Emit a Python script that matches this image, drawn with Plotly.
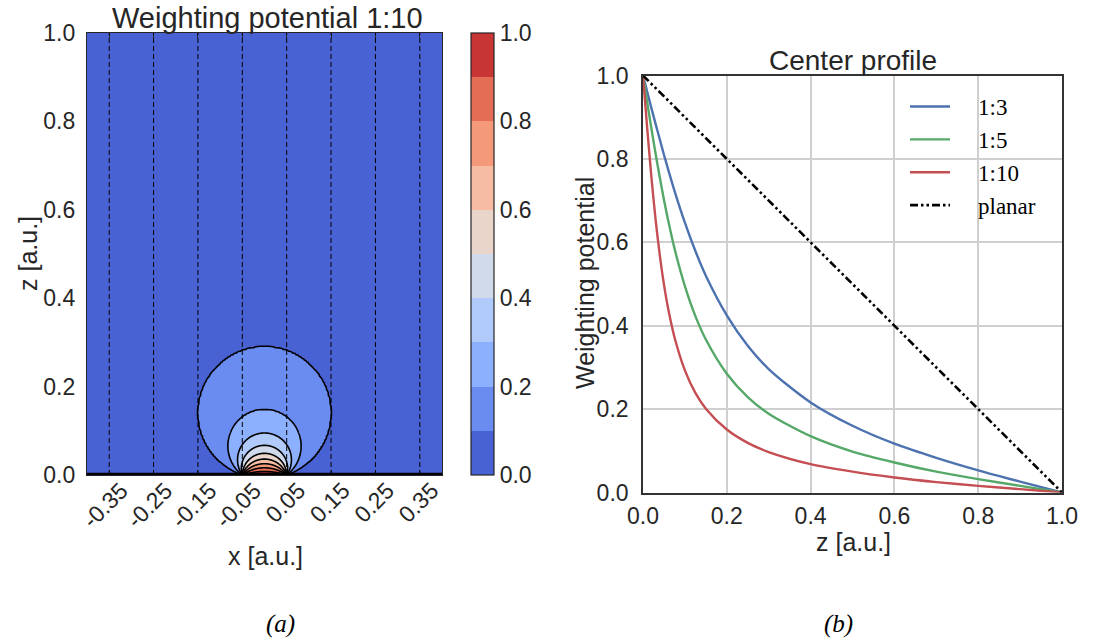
import numpy as np
import plotly.graph_objects as go

# ---------------- data ----------------
# (a) weighting potential 1:10 : contour levels and the height of each level on the pixel axis
contour_levels = [0.1, 0.2, 0.3, 0.4, 0.5, 0.6, 0.7, 0.8, 0.9]
apex_heights = [0.290, 0.148, 0.095, 0.067, 0.049, 0.036, 0.0255, 0.0163, 0.008]
pixel_half_width = 0.05
pixel_edges = [-0.35, -0.25, -0.15, -0.05, 0.05, 0.15, 0.25, 0.35]
x_tick_labels = ["-0.35", "-0.25", "-0.15", "-0.05", "0.05", "0.15", "0.25", "0.35"]
band_colors = ["#4962d3", "#6a8cf0", "#8db0fe", "#b0cafc", "#d0daeb",
               "#e9d5ca", "#f7bda3", "#f49a7b", "#e46d56", "#c73534"]
cbar_ticks = [0.0, 0.2, 0.4, 0.6, 0.8, 1.0]

# (b) center profile
profile_z = [0.0, 0.005, 0.01, 0.02, 0.03, 0.04, 0.05, 0.06, 0.075, 0.1, 0.125, 0.15,
             0.2, 0.25, 0.3, 0.4, 0.5, 0.6, 0.7, 0.8, 0.9, 1.0]
profile_1_3 = [1.0, 0.981, 0.961, 0.922, 0.884, 0.847, 0.810, 0.775, 0.724, 0.647, 0.579, 0.520,
               0.425, 0.352, 0.296, 0.216, 0.160, 0.117, 0.083, 0.053, 0.026, 0.0]
profile_1_5 = [1.0, 0.968, 0.936, 0.873, 0.813, 0.756, 0.702, 0.653, 0.586, 0.495, 0.423, 0.367,
               0.285, 0.229, 0.189, 0.135, 0.098, 0.072, 0.050, 0.032, 0.016, 0.0]
profile_1_10 = [1.0, 0.937, 0.874, 0.757, 0.655, 0.570, 0.499, 0.441, 0.373, 0.293, 0.239, 0.201,
                0.151, 0.119, 0.097, 0.068, 0.050, 0.036, 0.025, 0.016, 0.008, 0.0]
planar_z = [0.0, 1.0]
planar_v = [1.0, 0.0]
axis_ticks = [0.0, 0.2, 0.4, 0.6, 0.8, 1.0]

# ---------------- field for the contour ----------------
xg = np.unique(np.round(np.concatenate([np.arange(-0.4, -0.1, 0.004),
                                        np.arange(-0.1, 0.1, 0.0005),
                                        np.arange(0.1, 0.40001, 0.004)]), 5))
zg = np.unique(np.round(np.concatenate([np.arange(0.0, 0.1, 0.0004),
                                        np.arange(0.1, 1.00001, 0.004)]), 5))
X, Z = np.meshgrid(xg, zg)
a = pixel_half_width
with np.errstate(divide="ignore", invalid="ignore"):
    c = (X ** 2 + Z ** 2 - a ** 2) / (2 * Z)
    h = a ** 2 / (np.sqrt(c ** 2 + a ** 2) - c)
h = np.where(Z > 0, h, np.where(np.abs(X) < a, 0.0, np.inf))
h = np.nan_to_num(h, nan=np.inf, posinf=1e9)
hp = [0.0] + apex_heights[::-1] + [1.0]
vp = [1.0] + contour_levels[::-1] + [0.0]
phi = np.round(np.interp(h, hp, vp), 4)

n = len(band_colors)
fill_cs = [[k / (n - 1), col] for k, col in enumerate(band_colors)]
step_cs = []
for k, col in enumerate(band_colors):
    step_cs.append([k / n, col])
    step_cs.append([(k + 1) / n, col])

W, H = 1098, 640
TXT = "#262626"
SANS = "Liberation Sans, Arial, sans-serif"
SERIF = "Liberation Serif, Times New Roman, serif"
NB = "\u00a0"

fig = go.Figure()
fig.add_trace(go.Contour(
    x=xg, y=zg, z=phi, xaxis="x", yaxis="y",
    autocontour=False,
    contours=dict(start=0.1, end=0.9, size=0.1, coloring="fill", showlines=True),
    line=dict(color="black", width=1.6, smoothing=0.6),
    colorscale=fill_cs, showscale=False, hoverinfo="skip", showlegend=False,
))
fig.add_trace(go.Scatter(
    x=[None], y=[None], mode="markers", xaxis="x", yaxis="y", showlegend=False,
    marker=dict(color=[0.5], cmin=0, cmax=1, colorscale=step_cs, showscale=True,
                colorbar=dict(x=471 / W, xanchor="left", xpad=0, ypad=0,
                              y=(H - 475) / H, yanchor="bottom", len=442 / H, lenmode="fraction",
                              thickness=23, outlinewidth=1.2, outlinecolor=TXT,
                              tickvals=cbar_ticks, ticktext=[f"{v:.1f}" for v in cbar_ticks],
                              ticks="", tickfont=dict(size=23, color=TXT, family=SANS))),
))

series = [("1:3", profile_1_3, "#4c72b0"), ("1:5", profile_1_5, "#55a868"), ("1:10", profile_1_10, "#c44e52")]
for name, vals, col in series:
    fig.add_trace(go.Scatter(x=profile_z, y=vals, xaxis="x2", yaxis="y2", name=NB * 4 + name, mode="lines",
                             line=dict(color=col, width=2.4, shape="spline", smoothing=0.8)))
fig.add_trace(go.Scatter(x=planar_z, y=planar_v, xaxis="x2", yaxis="y2", name=NB * 4 + "planar", mode="lines",
                         line=dict(color="black", width=2.6, dash="8px,3px,2.5px,3px,2.5px,3px")))

shapes = []
for e in pixel_edges:
    shapes.append(dict(type="line", xref="x", yref="y domain", x0=e, x1=e, y0=0, y1=1,
                       line=dict(color="black", width=1, dash="5px,3px"), layer="above"))
shapes.append(dict(type="line", xref="x domain", yref="y", x0=0, x1=1, y0=0, y1=0,
                   line=dict(color="black", width=4.5), layer="above"))

ann = [
    dict(text="Weighting potential 1:10", x=267 / W, y=(H - 18) / H, font=dict(size=29)),
    dict(text="Center profile", x=853 / W, y=(H - 60) / H, font=dict(size=28)),
    dict(text="x [a.u.]", x=265 / W, y=(H - 556) / H, font=dict(size=25)),
    dict(text="z [a.u.]", x=28 / W, y=(H - 254) / H, font=dict(size=25), textangle=-90),
    dict(text="z [a.u.]", x=853 / W, y=(H - 542) / H, font=dict(size=25)),
    dict(text="Weighting potential", x=585 / W, y=(H - 283) / H, font=dict(size=25), textangle=-90),
    dict(text="<i>(a)</i>", x=280 / W, y=(H - 624) / H, font=dict(size=25, family=SERIF, color="black")),
    dict(text="<i>(b)</i>", x=838 / W, y=(H - 624) / H, font=dict(size=25, family=SERIF, color="black")),
]
for d in ann:
    d.update(xref="paper", yref="paper", showarrow=False, xanchor="center", yanchor="middle")

fig.update_layout(
    width=W, height=H, margin=dict(l=0, r=0, t=0, b=0, autoexpand=False),
    paper_bgcolor="white", plot_bgcolor="white",
    font=dict(family=SANS, color=TXT, size=23),
    xaxis=dict(domain=[87 / W, 442 / W], anchor="y", range=[-0.4, 0.4], tickvals=pixel_edges,
               ticktext=x_tick_labels, automargin=False, ticklabelshift=12, ticklabelstandoff=-8,
               tickangle=-45, ticks="inside", ticklen=5, tickcolor=TXT, showgrid=False, zeroline=False,
               showline=True, mirror="ticks", linecolor=TXT, linewidth=1.2, tickfont=dict(size=23)),
    yaxis=dict(domain=[(H - 475) / H, (H - 33) / H], anchor="x", range=[0, 1], tickvals=axis_ticks,
               ticktext=[f"{v:.1f}" for v in axis_ticks], ticks="", showgrid=False, zeroline=False,
               automargin=False,
               showline=True, mirror=True, linecolor=TXT, linewidth=1.2, ticklabelstandoff=6),
    xaxis2=dict(domain=[643 / W, 1062 / W], anchor="y2", range=[0, 1], tickvals=axis_ticks,
                ticktext=[f"{v:.1f}" for v in axis_ticks], ticks="", showgrid=True, gridcolor="#cfcfcf",
                automargin=False,
                gridwidth=1.5, zeroline=False, showline=True, mirror=True, linecolor="#333333", linewidth=1.6,
                ticklabelstandoff=2),
    yaxis2=dict(domain=[(H - 492.5) / H, (H - 75.5) / H], anchor="x2", range=[0, 1], tickvals=axis_ticks,
                ticktext=[f"{v:.1f}" for v in axis_ticks], ticks="", showgrid=True, gridcolor="#cfcfcf",
                automargin=False,
                gridwidth=1.5, zeroline=False, showline=True, mirror=True, linecolor="#333333", linewidth=1.6,
                ticklabelstandoff=8),
    showlegend=True,
    legend=dict(x=905 / W, y=(H - 85) / H, xanchor="left", yanchor="top", bgcolor="rgba(0,0,0,0)",
                font=dict(family=SERIF, size=23, color="black"), itemwidth=40, tracegroupgap=0),
    shapes=shapes, annotations=ann,
)

fig.write_html("out.html")
